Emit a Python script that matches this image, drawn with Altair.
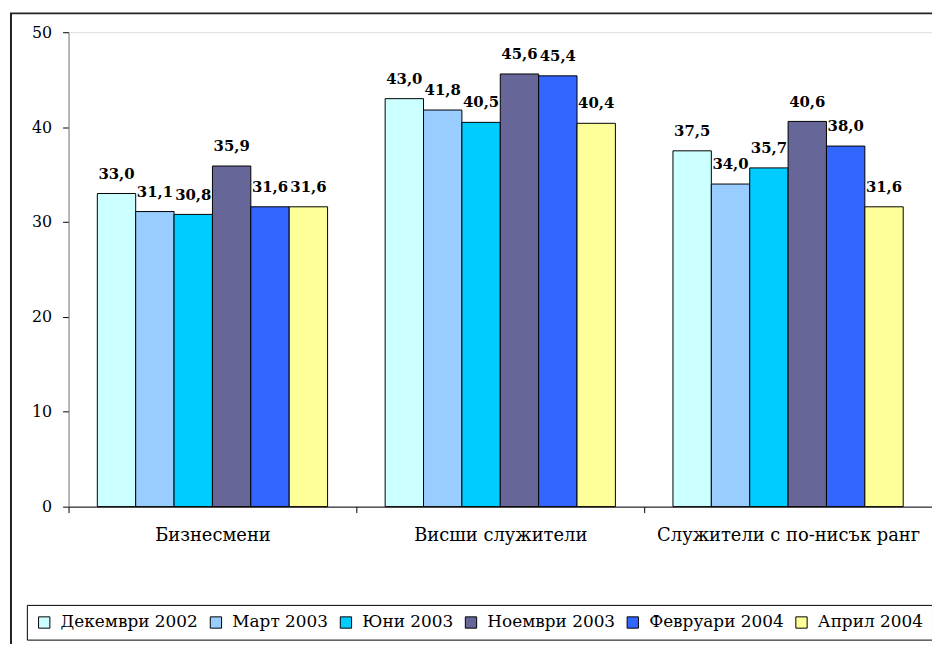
import altair as alt
import pandas as pd

categories = ["Бизнесмени", "Висши служители", "Служители с по-нисък ранг"]
series = ["Декември 2002", "Март 2003", "Юни 2003", "Ноември 2003", "Февруари 2004", "Април 2004"]
colors = ["#CCFFFF", "#99CCFF", "#00CCFF", "#666699", "#3366FF", "#FFFF99"]

biznesmeni = [33.0, 31.1, 30.8, 35.9, 31.6, 31.6]
visshi = [43.0, 41.8, 40.5, 45.6, 45.4, 40.4]
nisak = [37.5, 34.0, 35.7, 40.6, 38.0, 31.6]

rows = []
for cat, vals in zip(categories, [biznesmeni, visshi, nisak]):
    for s, v in zip(series, vals):
        rows.append({"category": cat, "series": s, "value": v})
df = pd.DataFrame(rows)

FONT = "DejaVu Serif"

x_enc = alt.X(
    "category:N",
    sort=categories,
    scale=alt.Scale(paddingInner=0, paddingOuter=0),
    axis=alt.Axis(
        title=None, labelAngle=0, labelFont=FONT, labelFontSize=18, labelColor="black",
        domainColor="black", tickColor="black", tickSize=6, tickBand="extent",
        labelPadding=14, zindex=1, labelLimit=0,
    ),
)
xoff_enc = alt.XOffset("series:N", sort=series, scale=alt.Scale(paddingInner=0, paddingOuter=0.75))
y_enc = alt.Y(
    "value:Q",
    scale=alt.Scale(domain=[0, 50], nice=False),
    axis=alt.Axis(
        title=None, values=[0, 10, 20, 30, 40, 50], grid=False, labelFont=FONT,
        labelFontSize=16, labelColor="black", domainColor="#808080", tickColor="black",
        tickSize=6, labelPadding=11, zindex=1,
    ),
)

frame = alt.Chart(alt.Data(values=[{"a": 1}])).mark_rect(
    fillOpacity=0, stroke="#222222", strokeWidth=2
).encode(
    x=alt.value(-58), x2=alt.value(1000), y=alt.value(-19), y2=alt.value(700)
)

bars = alt.Chart(df).mark_bar(stroke="black", strokeWidth=1).encode(
    x=x_enc,
    xOffset=xoff_enc,
    y=y_enc,
    fill=alt.Fill(
        "series:N",
        sort=series,
        scale=alt.Scale(domain=series, range=colors),
        legend=alt.Legend(
            orient="none", legendX=-42, legendY=577, direction="horizontal", columns=6,
            title=None, labelFont=FONT, labelFontSize=17, labelColor="black",
            symbolType="square", symbolSize=130, symbolStrokeColor="black",
            symbolStrokeWidth=1, symbolOpacity=1, fillColor="white", strokeColor="black",
            padding=9, labelOffset=8, columnPadding=9, labelLimit=0,
        ),
    ),
)

labels = alt.Chart(df).transform_calculate(
    label="replace(format(datum.value, '.1f'), '.', ',')"
).mark_text(
    baseline="alphabetic", dy=-15, font=FONT, fontWeight="bold", fontSize=15, color="black"
).encode(
    x=alt.X("category:N", sort=categories),
    xOffset=alt.XOffset("series:N", sort=series),
    y=alt.Y("value:Q"),
    text="label:N",
)

chart = alt.layer(frame, bars, labels).properties(
    width=870,
    height=478,
    autosize=alt.AutoSizeParams(type="none"),
    padding={"left": 61, "top": 22, "right": 0, "bottom": 136},
).configure_view(stroke=None).configure(background="white")

chart.save("out.html", embed_options={"renderer": "svg", "actions": False})
